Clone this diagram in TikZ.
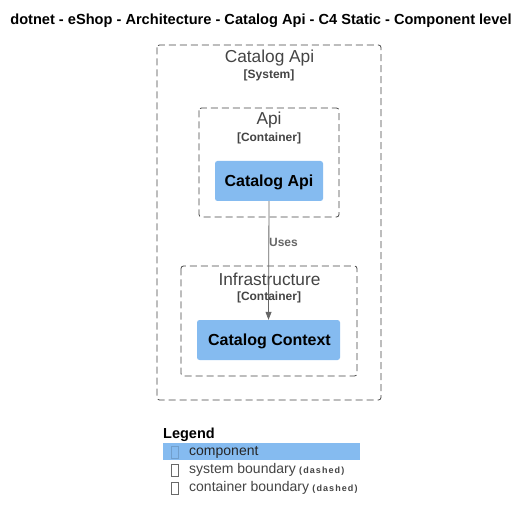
\documentclass[tikz,border=0pt]{standalone}
\usepackage{fontspec}
\setmainfont{Liberation Sans}
\newfontfamily\spacedfont[LetterSpace=12]{Liberation Sans}
\usetikzlibrary{arrows.meta}
\definecolor{compblue}{HTML}{85BBF0}
\definecolor{bndgray}{HTML}{444444}
\definecolor{relgray}{HTML}{666666}
\tikzset{
  bnd/.style={draw=bndgray, line width=0.8pt, dash pattern=on 7pt off 4pt, rounded corners=2.5pt},
  comp/.style={fill=compblue, draw=none, rounded corners=2.5pt},
  bndtitle/.style={text=bndgray, font=\fontsize{17.3}{19}\selectfont, inner sep=0pt},
  bndtype/.style={text=bndgray, font=\bfseries\fontsize{12}{14}\selectfont, inner sep=0pt},
  comptext/.style={text=black, font=\bfseries\fontsize{16}{18}\selectfont, inner sep=0pt},
  rel/.style={draw=relgray, line width=0.8pt, -{Triangle[length=8pt,width=6pt]}},
  reltext/.style={text=relgray, font=\bfseries\fontsize{12}{14}\selectfont, inner sep=0pt},
  legtext/.style={text=bndgray, font=\fontsize{14}{16}\selectfont, inner sep=0pt, anchor=west},
  legsmall/.style={text=bndgray, font=\spacedfont\bfseries\fontsize{9}{11}\selectfont, inner sep=0pt, anchor=base west},
  tofu/.style={draw=bndgray!80, line width=0.4pt},
}
\begin{document}
\begin{tikzpicture}[x=1pt,y=-1pt]
\useasboundingbox[fill=white] (0,0) rectangle (530,521);
% title
\node[font=\bfseries\fontsize{14.6}{16}\selectfont, inner sep=0pt] (title) at (261,20.5) {dotnet - eShop - Architecture - Catalog Api - C4 Static - Component level};
% system boundary
\draw[bnd] (157,45) rectangle (381,400);
\node[bndtitle] (systitle) at (269.5,58.5) {Catalog Api};
\node[bndtype] (systype) at (269,75) {[System]};
% api container
\draw[bnd] (199,108) rectangle (339,217);
\node[bndtitle] (apititle) at (269,120.5) {Api};
\node[bndtype] (apitype) at (269,138) {[Container]};
% infrastructure container
\draw[bnd] (181,266) rectangle (357,376);
\node[bndtitle] (inftitle) at (269.5,279.5) {Infrastructure};
\node[bndtype] (inftype) at (269,297) {[Container]};
% components
\node[comp, minimum width=108pt, minimum height=40pt] (catapi) at (269,181) {};
\node[comptext] (catapitext) at (269,182) {Catalog Api};
\node[comp, minimum width=143pt, minimum height=40pt] (catctx) at (268.5,340) {};
\node[comptext] (catctxtext) at (269.5,341) {Catalog Context};
% relation
\draw[rel] (catapi.south) -- (catctx.north);
\node[reltext] (uses) at (283.5,242.5) {Uses};
% legend
\node[font=\bfseries\fontsize{14.5}{16}\selectfont, inner sep=0pt, anchor=west] (legend) at (163,434.5) {Legend};
\fill[compblue] (163,443) rectangle (360,460);
\draw[draw=compblue!85!black, line width=0.4pt] (171.5,446.5) rectangle (178,458.5);
\node[legtext, text=black!85] (lcomp) at (189,452.5) {component};
\draw[tofu] (171.5,464.5) rectangle (178,476.5);
\node[legtext] (lsys) at (189,470) {system boundary};
\node[legsmall] (lsysd) at ([xshift=3pt]lsys.base east) {(dashed)};
\draw[tofu] (171.5,482.5) rectangle (178,494.5);
\node[legtext] (lcon) at (189,488) {container boundary};
\node[legsmall] (lcond) at ([xshift=3pt]lcon.base east) {(dashed)};
\end{tikzpicture}
\end{document}
